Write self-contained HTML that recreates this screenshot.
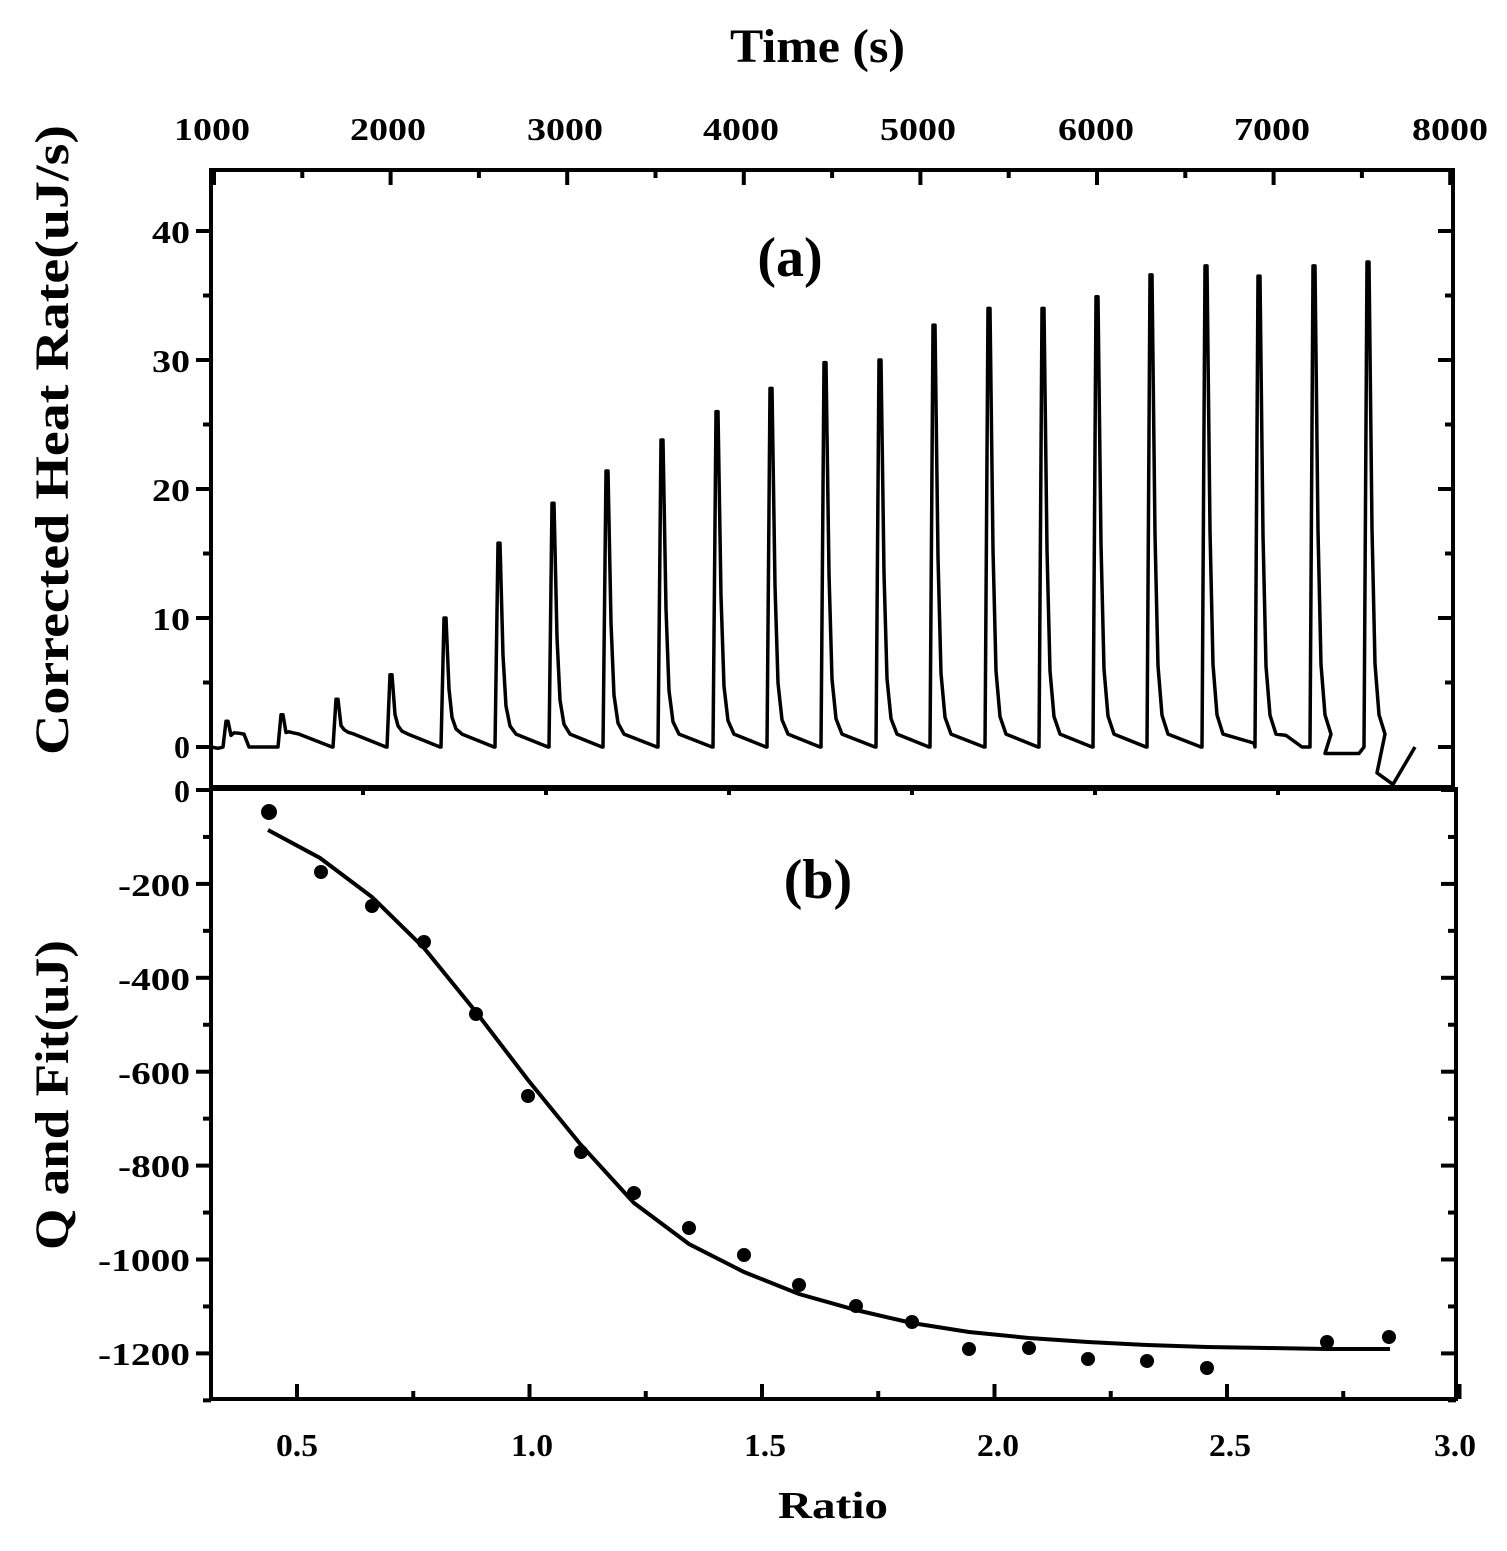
<!DOCTYPE html>
<html><head><meta charset="utf-8"><style>
html,body{margin:0;padding:0;background:#fff}
svg{display:block}
text{font-family:"Liberation Serif",serif;font-weight:bold;fill:#000}
</style></head><body>
<svg id="s" width="1507" height="1551" viewBox="0 0 1507 1551" xmlns="http://www.w3.org/2000/svg">
<rect width="1507" height="1551" fill="#fff"/>
<text x="730" y="62" font-size="48" textLength="175" lengthAdjust="spacingAndGlyphs">Time (s)</text>
<g font-size="32" text-anchor="middle">
<text x="212" y="140" textLength="76" lengthAdjust="spacingAndGlyphs">1000</text><text x="388" y="140" textLength="76" lengthAdjust="spacingAndGlyphs">2000</text><text x="565" y="140" textLength="76" lengthAdjust="spacingAndGlyphs">3000</text><text x="741" y="140" textLength="76" lengthAdjust="spacingAndGlyphs">4000</text><text x="918" y="140" textLength="76" lengthAdjust="spacingAndGlyphs">5000</text><text x="1096" y="140" textLength="76" lengthAdjust="spacingAndGlyphs">6000</text><text x="1272" y="140" textLength="76" lengthAdjust="spacingAndGlyphs">7000</text><text x="1450" y="140" textLength="76" lengthAdjust="spacingAndGlyphs">8000</text>
</g>
<g font-size="32" text-anchor="end">
<text x="190" y="243" textLength="38" lengthAdjust="spacingAndGlyphs">40</text><text x="190" y="372" textLength="38" lengthAdjust="spacingAndGlyphs">30</text><text x="190" y="501" textLength="38" lengthAdjust="spacingAndGlyphs">20</text><text x="190" y="630" textLength="38" lengthAdjust="spacingAndGlyphs">10</text><text x="190" y="758">0</text><text x="190" y="802">0</text>
<text x="190" y="896" textLength="72" lengthAdjust="spacingAndGlyphs">-200</text><text x="190" y="990" textLength="72" lengthAdjust="spacingAndGlyphs">-400</text><text x="190" y="1084" textLength="72" lengthAdjust="spacingAndGlyphs">-600</text><text x="190" y="1177" textLength="72" lengthAdjust="spacingAndGlyphs">-800</text><text x="190" y="1271" textLength="92" lengthAdjust="spacingAndGlyphs">-1000</text><text x="190" y="1365" textLength="92" lengthAdjust="spacingAndGlyphs">-1200</text>
</g>
<g font-size="32" text-anchor="middle">
<text x="297" y="1456" textLength="42" lengthAdjust="spacingAndGlyphs">0.5</text><text x="532" y="1456" textLength="42" lengthAdjust="spacingAndGlyphs">1.0</text><text x="765" y="1456" textLength="42" lengthAdjust="spacingAndGlyphs">1.5</text><text x="998" y="1456" textLength="42" lengthAdjust="spacingAndGlyphs">2.0</text><text x="1230" y="1456" textLength="42" lengthAdjust="spacingAndGlyphs">2.5</text><text x="1455" y="1456" textLength="42" lengthAdjust="spacingAndGlyphs">3.0</text>
</g>
<text x="778" y="1518" font-size="38" textLength="110" lengthAdjust="spacingAndGlyphs">Ratio</text>
<text transform="translate(68,755) rotate(-90)" font-size="48" textLength="630" lengthAdjust="spacingAndGlyphs">Corrected Heat Rate(uJ/s)</text>
<text transform="translate(68,1250) rotate(-90)" font-size="48" textLength="310" lengthAdjust="spacingAndGlyphs">Q and Fit(uJ)</text>
<text x="790" y="276" font-size="56" text-anchor="middle">(a)</text>
<text x="818" y="898" font-size="56" text-anchor="middle">(b)</text>
<g stroke="#000" stroke-width="4" fill="none">
<rect x="211" y="170" width="1242" height="617"/>
<rect x="211" y="789" width="1245" height="610"/>
</g>
<g id="ticks" stroke="#000" stroke-width="4"></g>
<path id="trace" stroke="#000" stroke-width="3.5" fill="none" stroke-linejoin="round"/>
<path stroke="#000" stroke-width="4" fill="none" d="M268,830 L320,858 L372,897 L424,948 L476,1012 L528,1080 L581,1145 L634,1203 L689,1244 L744,1272 L799,1294 L856,1310 L912,1323 L969,1332 L1029,1338 L1088,1342 L1147,1345 L1207,1347 L1267,1348 L1327,1349 L1390,1349"/>
<g id="pts" fill="#000"></g>
</svg>
<script>
var t=document.getElementById('ticks'),h='';
function L(x1,y1,x2,y2){h+='<line x1="'+x1+'" y1="'+y1+'" x2="'+x2+'" y2="'+y2+'"/>';}
for(var v=1000;v<=8000;v+=500){var x=214+(v-1000)*0.1766;L(x,170,x,v%1000?178:185);}
for(var v=0;v<=45;v+=5){var y=747-v*12.9;if(y<172)continue;L(211,y,v%10?203:196,y);L(1453,y,v%10?1445:1438,y);}
[363,546,729,912,1095,1278].forEach(function(x){L(x,787,x,795);});
for(var v=0;v>=-1300;v-=100){var y=790+(-v)*0.4695;L(211,y,v%200?203:196,y);L(1456,y,v%200?1448:1441,y);}
for(var r=0.5;r<=3.0;r+=0.25){var x=297+(r-0.5)*465;L(x,1399,x,(Math.round(r*4)%2)?1391:1384);}
t.innerHTML=h;
var px=[224,279,334,388,442,496,550,604,659,714,768,822,877,931,986,1040,1094,1148,1203,1256,1311,1365];
var hh=[2,2.5,3.7,5.6,10,15.8,18.9,21.4,23.8,26,27.8,29.8,30,32.7,34,34,34.9,36.6,37.3,36.5,37.3,37.6];
function Y(v){return 747-v*12.9;}
var d='M211,'+Y(0)+' L218,'+Y(-0.1);
for(var i=0;i<px.length;i++){
 var x=px[i],H=hh[i];
 d+=' L'+(x-1)+','+Y(0)+' L'+(x+2)+','+Y(H)+' L'+(x+4)+','+Y(H)+' L'+(x+7)+','+Y(H*0.45)+' L'+(x+10)+','+Y(H*0.15+0.8)+' L'+(x+14)+','+Y(H*0.04+1)+' L'+(x+20)+','+Y(1);
 var next=(i+1<px.length)?px[i+1]:0;
 if(i==0){d+=' L'+(x+25)+','+Y(0)+' L'+(px[1]-1)+','+Y(0);continue;}
 if(i==19){d+=' L'+(x+30)+','+Y(0.9)+' L'+(x+46)+','+Y(0);continue;}
 if(i==20){d+=' L'+(x+14)+','+Y(-0.5)+' L'+(x+48)+','+Y(-0.5)+' L'+(next-2)+','+Y(-0.1);continue;}
 if(i==21){d+=' L'+(x+12)+','+Y(-2)+' L'+(x+28)+','+Y(-2.9)+' L1415,'+Y(0);continue;}
 var lvl=(i>=18)?0.3:0;
 d+=' L'+(next-2)+','+Y(lvl);
}
document.getElementById('trace').setAttribute('d',d);
var P=[[269,812],[321,872],[372,906],[424,942],[476,1014],[528,1096],[581,1152],[634,1193],[689,1228],[744,1255],[799,1285],[856,1306],[912,1322],[969,1349],[1029,1348],[1088,1359],[1147,1361],[1207,1368],[1327,1342],[1389,1337]];
var s='';P.forEach(function(p,i){s+='<circle cx="'+p[0]+'" cy="'+p[1]+'" r="'+(i==0?8:7)+'"/>';});
document.getElementById('pts').innerHTML=s;
</script>
</body></html>
